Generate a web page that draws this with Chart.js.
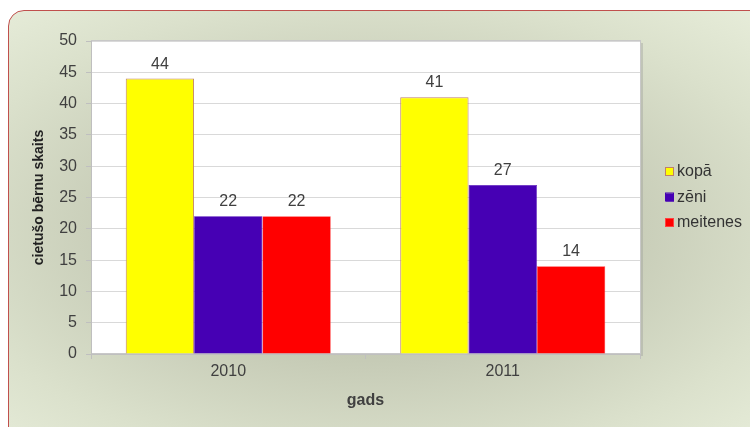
<!DOCTYPE html>
<html>
<head>
<meta charset="utf-8">
<script src="https://cdn.jsdelivr.net/npm/chart.js@4.4.0/dist/chart.umd.min.js"></script>
<style>
  html, body { margin:0; padding:0; background:#ffffff; overflow:hidden; }
  #wrap { position:relative; width:750px; height:427px; overflow:hidden; }
  #panel {
    position:absolute; left:8px; top:10px; width:770px; height:440px;
    border:1px solid #c0504d; border-radius:16px;
    background: radial-gradient(ellipse at 47% 50%, #bcc1ab 0%, #c5cab5 40%, #dbe1cc 75%, #e8eedb 100%);
  }
  #chart { position:absolute; left:0; top:0; }
</style>
</head>
<body>
<div id="wrap">
  <div id="panel"></div>
  <canvas id="chart" width="750" height="427"></canvas>
</div>
<script>
// ----- Data -----
const YEARS = ['2010', '2011'];
const SERIES = ['kopā', 'zēni', 'meitenes'];
const KOPA = [44, 41];
const ZENI = [22, 27];
const MEITENES = [22, 14];
const COLORS = ['#ffff00', '#4600b4', '#ff0000'];
const BORDERS = ['#c0806a', '#4600b4', '#ff4040'];

const FONT = 'Liberation Sans, Arial, sans-serif';

// ----- Plugins -----
const plotBox = {
  id: 'plotBox',
  beforeDraw(chart) {
    const {ctx, chartArea: a} = chart;
    ctx.save();
    ctx.fillStyle = '#ffffff';
    ctx.fillRect(a.left, a.top, a.right - a.left, a.bottom - a.top);
    ctx.strokeStyle = '#c8c8c8';
    ctx.lineWidth = 1;
    ctx.strokeRect(a.left + 0.5, a.top - 0.5, a.right - a.left, a.bottom - a.top);
    ctx.fillStyle = 'rgba(150,150,150,0.35)';
    ctx.fillRect(a.right + 1, a.top + 2, 2, a.bottom - a.top);
    ctx.restore();
  }
};

const valueLabels = {
  id: 'valueLabels',
  afterDatasetsDraw(chart) {
    const ctx = chart.ctx;
    ctx.save();
    ctx.font = '16px ' + FONT;
    ctx.fillStyle = '#404040';
    ctx.textAlign = 'center';
    ctx.textBaseline = 'alphabetic';
    chart.data.datasets.forEach((ds, i) => {
      chart.getDatasetMeta(i).data.forEach((bar, j) => {
        ctx.fillText(String(ds.data[j]), bar.x, bar.y - 10);
      });
    });
    ctx.restore();
  }
};

const sideLegend = {
  id: 'sideLegend',
  afterDraw(chart) {
    const ctx = chart.ctx;
    ctx.save();
    ctx.font = '16px ' + FONT;
    ctx.textBaseline = 'middle';
    chart.data.datasets.forEach((ds, i) => {
      const y = 172 + i * 25.5;
      ctx.fillStyle = ds.backgroundColor;
      ctx.fillRect(666, y - 4, 8, 8);
      ctx.strokeStyle = ds.borderColor;
      ctx.lineWidth = 1;
      ctx.strokeRect(665.5, y - 4.5, 8, 8);
      ctx.fillStyle = '#333333';
      ctx.fillText(ds.label, 677, y);
    });
    ctx.restore();
  }
};

// ----- Chart -----
const datasets = [KOPA, ZENI, MEITENES].map((vals, i) => ({
  label: SERIES[i],
  data: vals,
  backgroundColor: COLORS[i],
  borderColor: BORDERS[i],
  borderWidth: i === 0 ? 1 : 0.6,
  barPercentage: 1,
  categoryPercentage: 0.747
}));

new Chart(document.getElementById('chart'), {
  type: 'bar',
  data: { labels: YEARS, datasets },
  plugins: [plotBox, valueLabels, sideLegend],
  options: {
    responsive: false,
    animation: false,
    layout: { padding: { left: 0, top: 41, right: 110, bottom: 0 } },
    plugins: { legend: { display: false }, tooltip: { enabled: false } },
    scales: {
      x: {
        afterFit(s) { s.height = 73; },
        grid: { drawOnChartArea: false, drawTicks: true, tickLength: 5, color: '#bfbfbf' },
        border: { color: '#bfbfbf' },
        ticks: { color: '#404040', font: { family: FONT, size: 16 }, padding: 3 },
        title: { display: true, text: 'gads', color: '#404040',
                 font: { family: FONT, size: 16, weight: 'bold' }, padding: { top: 0, bottom: 17 } }
      },
      y: {
        min: 0, max: 50,
        afterFit(s) { s.width = 91; },
        grid: { color: '#d9d9d9', tickLength: 5, tickColor: '#bfbfbf' },
        border: { color: '#bfbfbf' },
        ticks: { stepSize: 5, color: '#404040', font: { family: FONT, size: 16 }, padding: 9 },
        title: { display: true, text: 'cietušo bērnu skaits', color: '#222222',
                 font: { family: FONT, size: 14, weight: 'bold' }, padding: { top: 31, bottom: 0 } }
      }
    }
  }
});
</script>
</body>
</html>
